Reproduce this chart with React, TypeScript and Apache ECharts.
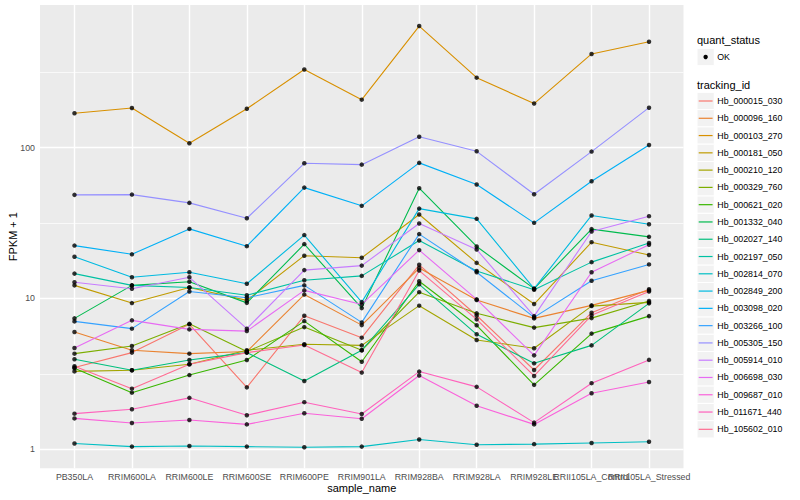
import React, { useEffect, useRef } from "react";
import * as echarts from "echarts";

// ---------- data ----------
const sampleNames = [
  "PB350LA", "RRIM600LA", "RRIM600LE", "RRIM600SE", "RRIM600PE", "RRIM901LA",
  "RRIM928BA", "RRIM928LA", "RRIM928LE", "RRII105LA_Control", "RRII105LA_Stressed",
];

const trackingIds = [
  "Hb_000015_030", "Hb_000096_160", "Hb_000103_270", "Hb_000181_050", "Hb_000210_120",
  "Hb_000329_760", "Hb_000621_020", "Hb_001332_040", "Hb_002027_140", "Hb_002197_050",
  "Hb_002814_070", "Hb_002849_200", "Hb_003098_020", "Hb_003266_100", "Hb_005305_150",
  "Hb_005914_010", "Hb_006698_030", "Hb_009687_010", "Hb_011671_440", "Hb_105602_010",
];

// FPKM + 1 per sample (same order as sampleNames)
const hb_000015_030 = [3.48, 4.37, 6.73, 2.57, 7.68, 5.49, 16.7, 7.7, 3.35, 8.04, 11.5];
const hb_000096_160 = [5.98, 4.53, 4.3, 4.44, 10.6, 6.65, 15.9, 9.75, 7.37, 8.99, 11.3];
const hb_000103_270 = [169, 183, 107, 181, 330, 208, 640, 291, 196, 418, 504];
const hb_000181_050 = [12.2, 9.31, 11.8, 9.7, 19.2, 18.6, 36.0, 17.2, 9.17, 23.6, 19.4];
const hb_000210_120 = [3.28, 3.34, 3.66, 4.53, 4.96, 4.88, 8.95, 5.3, 4.67, 8.89, 9.41];
const hb_000329_760 = [4.3, 4.83, 6.78, 4.44, 6.45, 4.53, 11.0, 7.96, 6.4, 7.4, 9.62];
const hb_000621_020 = [3.44, 2.37, 3.1, 3.9, 7.07, 3.8, 13.0, 6.63, 2.67, 5.84, 7.63];
const hb_001332_040 = [7.37, 12.2, 12.9, 9.34, 22.9, 8.62, 53.8, 22.1, 11.6, 28.8, 25.6];
const hb_002027_140 = [3.95, 3.34, 3.9, 4.37, 2.83, 4.53, 12.4, 5.78, 3.71, 4.88, 9.27];
const hb_002197_050 = [14.6, 12.2, 11.8, 10.5, 13.2, 14.1, 24.2, 15.2, 11.4, 17.4, 23.3];
const hb_002814_070 = [1.09, 1.04, 1.05, 1.04, 1.03, 1.04, 1.16, 1.07, 1.08, 1.1, 1.12];
const hb_002849_200 = [18.9, 13.8, 14.9, 12.5, 26.3, 9.45, 39.4, 33.7, 11.6, 35.5, 31.0];
const hb_003098_020 = [22.4, 19.6, 28.9, 22.2, 54.3, 41.1, 79.2, 56.9, 31.7, 59.8, 104];
const hb_003266_100 = [7.04, 6.3, 11.1, 10.1, 12.2, 6.93, 26.7, 14.9, 7.48, 13.1, 16.8];
const hb_005305_150 = [48.6, 48.8, 43.0, 34.0, 78.7, 77.1, 118, 94.5, 49.1, 94.1, 184];
const hb_005914_010 = [12.8, 11.6, 13.8, 6.3, 15.4, 16.5, 31.4, 21.1, 7.63, 27.8, 35.1];
const hb_006698_030 = [4.69, 7.15, 6.23, 6.07, 11.3, 9.12, 20.9, 9.85, 4.19, 14.9, 22.7];
const hb_009687_010 = [1.6, 1.49, 1.56, 1.46, 1.73, 1.59, 3.08, 1.94, 1.46, 2.35, 2.79];
const hb_011671_440 = [1.72, 1.84, 2.19, 1.68, 2.05, 1.71, 3.27, 2.59, 1.5, 2.74, 3.91];
const hb_105602_010 = [3.55, 2.52, 3.66, 4.37, 4.91, 3.22, 15.3, 7.26, 3.06, 7.72, 11.1];

const seriesValues = [
  hb_000015_030, hb_000096_160, hb_000103_270, hb_000181_050, hb_000210_120,
  hb_000329_760, hb_000621_020, hb_001332_040, hb_002027_140, hb_002197_050,
  hb_002814_070, hb_002849_200, hb_003098_020, hb_003266_100, hb_005305_150,
  hb_005914_010, hb_006698_030, hb_009687_010, hb_011671_440, hb_105602_010,
];

const yTickLabels = [1, 10, 100];
const yMinorBreaks = [3.162, 31.62, 316.2];
const quantStatus = ["OK"];

// ---------- styles ----------
const palette = [
  "#F8766D", "#EA8331", "#D89000", "#C09B00", "#A3A500", "#7CAE00", "#39B600",
  "#00BB4E", "#00BF7D", "#00C1A3", "#00BFC4", "#00BAE0", "#00B0F6", "#35A2FF",
  "#9590FF", "#C77CFF", "#E76BF3", "#FA62DB", "#FF62BC", "#FF6C91",
];
const FONT = "'Liberation Sans', Arial, Helvetica, sans-serif";

export default function App() {
  const ref = useRef<HTMLDivElement>(null);

  useEffect(() => {
    if (!ref.current) return;
    const chart = echarts.init(ref.current, null, { renderer: "svg" });
    const LOG = Math.log10;

    // ggplot-like 5% expansion on the log scale
    const all = seriesValues.flat().map(LOG);
    const lo = Math.min(...all);
    const hi = Math.max(...all);
    const span = hi - lo;
    const yMin = lo - 0.05 * span;
    const yMax = hi + 0.05 * span;

    const xIdx = sampleNames.map((_, i) => i);
    const xEven = xIdx.filter((i) => i % 2 === 0);
    const xOdd = xIdx.filter((i) => i % 2 === 1);
    const yTicks = yTickLabels.map(LOG);

    const gridTop = 5;
    const gridLeft = 40;
    const gridW = 643.5;
    const gridH = 463.3;

    const gridLines: any[] = [
      ...yMinorBreaks.map((v) => ({ yAxis: LOG(v), lineStyle: { color: "#FFFFFF", width: 0.7, type: "solid" } })),
      ...yTicks.map((v) => ({ yAxis: v, lineStyle: { color: "#FFFFFF", width: 1.4, type: "solid" } })),
      ...xIdx.map((i) => ({ xAxis: i, lineStyle: { color: "#FFFFFF", width: 1.4, type: "solid" } })),
    ];

    const lineSeries: any[] = seriesValues.map((vals, k) => ({
      name: trackingIds[k],
      type: "line",
      xAxisIndex: 0,
      data: vals.map((v, i) => [i, LOG(v)]),
      showSymbol: false,
      symbol: "none",
      silent: true,
      z: 2,
      lineStyle: { color: palette[k], width: 1.1 },
      itemStyle: { color: palette[k] },
      ...(k === 0
        ? {
            markLine: {
              silent: true,
              z: 1,
              symbol: ["none", "none"],
              label: { show: false },
              emphasis: { disabled: true },
              animation: false,
              data: gridLines,
            },
          }
        : {}),
    }));

    const points: number[][] = [];
    seriesValues.forEach((vals) => vals.forEach((v, i) => points.push([i, LOG(v)])));

    // legend graphics
    const lgX = 697;
    const keySize = 17.28;
    const legend: any[] = [];
    legend.push({
      type: "text", x: lgX, y: 40,
      style: { text: "quant_status", fontSize: 11, fill: "#000", fontFamily: FONT, verticalAlign: "middle", align: "left" },
    });
    quantStatus.forEach((q, i) => {
      const cy = 57 + i * keySize;
      legend.push({
        type: "rect", shape: { x: lgX, y: cy - keySize / 2, width: keySize, height: keySize },
        style: { fill: "#F2F2F2", stroke: "#FFFFFF", lineWidth: 1 },
      });
      legend.push({ type: "circle", shape: { cx: lgX + keySize / 2, cy, r: 2.2 }, style: { fill: "#000" } });
      legend.push({
        type: "text", x: lgX + keySize + 3, y: cy,
        style: { text: q, fontSize: 8.8, fill: "#000", fontFamily: FONT, verticalAlign: "middle", align: "left" },
      });
    });
    legend.push({
      type: "text", x: lgX, y: 85,
      style: { text: "tracking_id", fontSize: 11, fill: "#000", fontFamily: FONT, verticalAlign: "middle", align: "left" },
    });
    trackingIds.forEach((id, k) => {
      const cy = 101 + k * keySize;
      legend.push({
        type: "rect", shape: { x: lgX, y: cy - keySize / 2, width: keySize, height: keySize },
        style: { fill: "#F2F2F2", stroke: "#FFFFFF", lineWidth: 1 },
      });
      legend.push({
        type: "line", shape: { x1: lgX + 1.7, y1: cy, x2: lgX + keySize - 1.7, y2: cy },
        style: { stroke: palette[k], lineWidth: 1.2 },
      });
      legend.push({
        type: "text", x: lgX + keySize + 3, y: cy,
        style: { text: id, fontSize: 8.8, fill: "#000", fontFamily: FONT, verticalAlign: "middle", align: "left" },
      });
    });

    // axis titles
    legend.push({
      type: "text", x: gridLeft + gridW / 2, y: 488,
      style: { text: "sample_name", fontSize: 11, fill: "#000", fontFamily: FONT, verticalAlign: "middle", align: "center" },
    });
    legend.push({
      type: "text", x: 13, y: gridTop + gridH / 2, rotation: Math.PI / 2,
      style: { text: "FPKM + 1", fontSize: 11, fill: "#000", fontFamily: FONT, verticalAlign: "middle", align: "center" },
    });

    const xLabelBase = {
      formatter: (v: number) => sampleNames[Math.round(v)] ?? "",
      margin: 4, fontSize: 8.8, color: "#4D4D4D", fontFamily: FONT,
      hideOverlap: false,
      showMinLabel: true,
      showMaxLabel: true,
    };
    const xAxisBase = {
      type: "value",
      position: "bottom",
      offset: 0,
      min: -0.6,
      max: sampleNames.length - 1 + 0.6,
      axisLine: { show: false },
      splitLine: { show: false },
    };

    chart.setOption({
      animation: false,
      backgroundColor: "#FFFFFF",
      grid: {
        left: gridLeft, top: gridTop, width: gridW, height: gridH,
        show: true, backgroundColor: "#EBEBEB", borderWidth: 0, containLabel: false,
      },
      xAxis: [
        {
          ...xAxisBase,
          axisTick: { show: true, customValues: xIdx, length: 3, lineStyle: { color: "#333333", width: 1 } },
          axisLabel: { ...xLabelBase, customValues: xEven },
        },
        {
          ...xAxisBase,
          axisTick: { show: false, customValues: xOdd },
          axisLabel: { ...xLabelBase, customValues: xOdd },
        },
      ],
      yAxis: {
        type: "value",
        min: yMin,
        max: yMax,
        axisLine: { show: false },
        splitLine: { show: false },
        axisTick: { show: true, customValues: yTicks, length: 3, lineStyle: { color: "#333333", width: 1 } },
        axisLabel: {
          customValues: yTicks,
          formatter: (v: number) => String(Math.round(Math.pow(10, v))),
          margin: 5, fontSize: 8.8, color: "#4D4D4D", fontFamily: FONT,
          showMinLabel: true,
          showMaxLabel: true,
        },
      },
      series: [
        ...lineSeries,
        {
          name: "quant_status",
          type: "scatter",
          xAxisIndex: 0,
          data: points,
          symbol: "circle",
          symbolSize: 4.5,
          silent: true,
          z: 3,
          itemStyle: { color: "#000000" },
        },
      ],
      graphic: legend,
    });

    return () => chart.dispose();
  }, []);

  return (
    <div
      ref={ref}
      style={{ position: "fixed", left: 0, top: 0, width: 800, height: 500, background: "#fff" }}
    />
  );
}
